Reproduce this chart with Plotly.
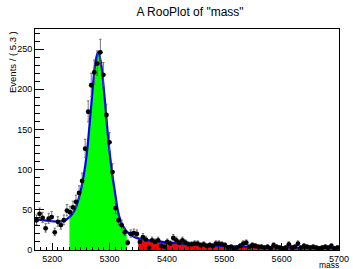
import numpy as np
import plotly.graph_objects as go

# ---- data ----
bin_lo = 5170.0
bin_width = 5.3
counts = [37, 45, 40, 27, 39, 41, 22, 35, 31, 37,
          49, 47, 53, 60, 71, 86, 126, 172, 205, 221,
          232, 246, 218, 168, 134, 97, 52, 37, 31, 22,
          9, 20, 21, 20, 10, 16, 13, 3, 12, 10,
          12, 5, 4, 10, 8, 15, 12, 9, 12, 9,
          7, 7, 8, 8, 6, 7, 5, 6, 5, 8,
          8, 7, 6, 3, 4, 1, 3, 5, 8, 9,
          4, 6, 5, 4, 4, 3, 4, 2, 6, 4,
          3, 2, 3, 7, 3, 4, 8, 3, 5, 4,
          3, 4, 3, 2, 3, 4, 3, 5, 2, 3]

# fitted model curve, read at sample masses
curve_mass = [5170, 5180, 5190, 5200, 5210, 5220, 5230, 5235, 5240, 5245,
              5250, 5255, 5260, 5265, 5270, 5275, 5280, 5285, 5290, 5295,
              5300, 5305, 5310, 5315, 5320, 5325, 5330, 5335, 5340, 5350,
              5360, 5380, 5400, 5425, 5450, 5500, 5550, 5600, 5650, 5700]
curve_val = [38.5, 37.5, 36.5, 35.8, 35.5, 36.2, 41, 45, 51, 61,
             75, 93, 118, 155, 196, 232, 247, 233, 200, 160,
             122, 93, 69, 47, 35, 28, 23, 20, 17.5, 14.5,
             13, 11, 9.5, 8, 6.5, 5, 4, 3.3, 2.8, 2.5]

signal_range = (5230, 5330)
sideband_range = (5350, 5700)

x_ticks = [5200, 5300, 5400, 5500, 5600, 5700]
y_ticks = [0, 50, 100, 150, 200, 250]

# ---- derived ----
centers = [bin_lo + bin_width * (i + 0.5) for i in range(len(counts))]
err_up = [0.5 + np.sqrt(n + 0.25) for n in counts]
err_dn = [-0.5 + np.sqrt(n + 0.25) for n in counts]

def sub(lo, hi):
    xs, ys = [], []
    for m, v in zip(curve_mass, curve_val):
        if lo <= m <= hi:
            xs.append(m)
            ys.append(v)
    return xs, ys

fig = go.Figure()

gx, gy = sub(*signal_range)
fig.add_trace(go.Scatter(x=gx, y=gy, mode="lines", fill="tozeroy",
                         fillcolor="#00ff00", line=dict(width=0, shape="spline", color="#00ff00"),
                         hoverinfo="skip", showlegend=False))
rx, ry = sub(*sideband_range)
fig.add_trace(go.Scatter(x=rx, y=ry, mode="lines", fill="tozeroy",
                         fillcolor="#ff0000", line=dict(width=0, shape="spline", color="#ff0000"),
                         hoverinfo="skip", showlegend=False))

fig.add_trace(go.Scatter(x=curve_mass, y=curve_val, mode="lines",
                         line=dict(color="#0000ff", width=2.2, shape="spline"),
                         showlegend=False))

fig.add_trace(go.Scatter(
    x=centers, y=counts, mode="markers",
    marker=dict(color="black", size=4.8, symbol="circle"),
    error_y=dict(type="data", symmetric=False, array=err_up, arrayminus=err_dn,
                 color="#555555", thickness=0.8, width=1.2),
    error_x=dict(type="constant", value=bin_width / 2, color="#555555", thickness=0.8, width=0),
    showlegend=False))

font = "Liberation Sans, Arial, Helvetica, sans-serif"

fig.update_layout(
    width=353, height=269,
    margin=dict(l=35, r=14, t=29, b=19),
    paper_bgcolor="white", plot_bgcolor="white",
    font=dict(family=font, size=9, color="black"),
    title=dict(text='A RooPlot of "mass"', x=190 / 353, xanchor="center",
               y=1 - 12 / 269, yanchor="middle",
               font=dict(family=font, size=12, color="black")),
    xaxis=dict(range=[5170, 5700], tickvals=x_ticks, ticks="inside", ticklen=6.6,
               automargin=False,
               tickcolor="black", tickwidth=1, showgrid=False, zeroline=False,
               showline=True, linecolor="black", linewidth=1, mirror=True,
               tickfont=dict(family=font, size=9),
               minor=dict(dtick=10, tick0=5170, ticks="inside", ticklen=3.3,
                          tickcolor="black", tickwidth=1, showgrid=False)),
    yaxis=dict(range=[0, 275], tickvals=y_ticks, ticks="inside", ticklen=9,
               automargin=False,
               tickcolor="black", tickwidth=1, showgrid=False, zeroline=False,
               showline=True, linecolor="black", linewidth=1, mirror=True,
               tickfont=dict(family=font, size=9),
               minor=dict(dtick=10, tick0=0, ticks="inside", ticklen=4.5,
                          tickcolor="black", tickwidth=1, showgrid=False)),
    annotations=[
        dict(text="Events / ( 5.3 )", textangle=-90, xref="paper", yref="paper",
             x=(12 - 35) / 304, y=1.0, xanchor="center", yanchor="top",
             showarrow=False, font=dict(family=font, size=9.5)),
        dict(text="mass", xref="paper", yref="paper",
             x=(341 - 35) / 304, y=(250 - 265) / 221, xanchor="right", yanchor="middle",
             showarrow=False, font=dict(family=font, size=8.5)),
    ],
)

fig.write_html("out.html", config={"displayModeBar": False},
               post_script="document.body.style.margin='0px';")
